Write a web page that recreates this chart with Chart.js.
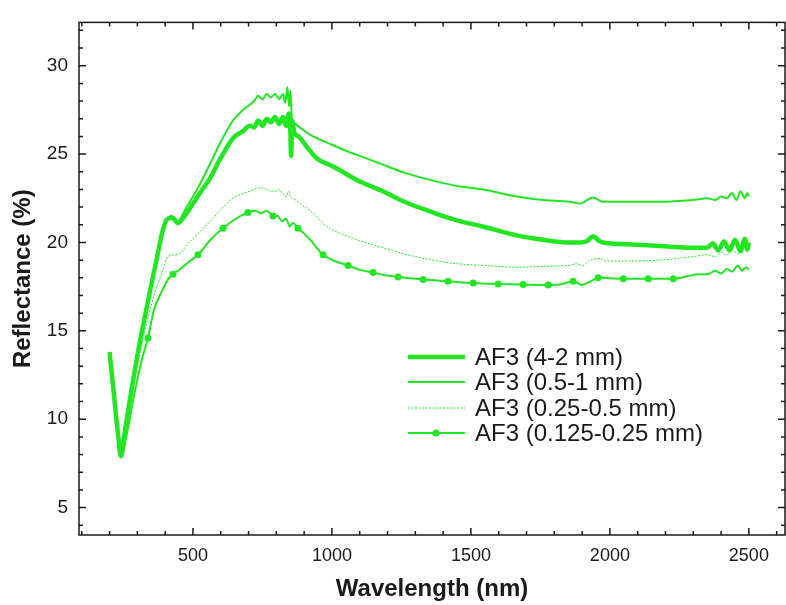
<!DOCTYPE html>
<html>
<head>
<meta charset="utf-8">
<script src="https://cdn.jsdelivr.net/npm/chart.js@4.4.1/dist/chart.umd.min.js"></script>
<style>
  body { margin: 0; background: #fff; }
  #wrap { width: 786px; height: 605px; }
</style>
</head>
<body>
<div id="wrap"><canvas id="myCanvas" width="786" height="605"></canvas></div>
<script>
// wavelengths (nm) and reflectance (%)
var nomA = "AF3 (4-2 mm)";
var wlA = [200, 215, 230, 241, 255, 275, 300, 327, 350, 374, 390, 406, 425, 446, 470, 500, 525, 560, 597, 644, 680, 705,
    720, 735, 750, 766, 780, 795, 810, 824, 835, 845, 850, 853, 857, 865, 880, 910, 946, 1004, 1065, 1100, 1183, 1260,
    1363, 1450, 1543, 1665, 1760, 1856, 1892, 1920, 1939, 1960, 1975, 2061, 2180, 2298, 2350, 2370, 2390, 2410, 2430,
    2450, 2470, 2485, 2495, 2500];
var refA = [13.8, 11.5, 9.2, 7.9, 9.3, 11.3, 13.6, 15.8, 17.6, 19.4, 20.6, 21.3, 21.4, 21.1, 21.5, 22.2, 22.8, 23.6, 24.7, 25.9, 26.3, 26.6,
    26.5, 26.9, 26.6, 27.0, 26.8, 27.1, 26.7, 27.1, 26.6, 27.3, 26.5, 24.9, 26.9, 26.2, 26.0, 25.4, 24.75, 24.3, 23.75, 23.45, 22.9, 22.3,
    21.7, 21.25, 20.9, 20.4, 20.15, 20.0, 20.0, 20.1, 20.35, 20.1, 20.0, 19.9, 19.8, 19.7, 19.7, 19.95, 19.55, 20.05, 19.55,
    20.15, 19.5, 20.2, 19.6, 20.0];

var nomB = "AF3 (0.5-1 mm)";
var wlB = [200, 215, 230, 243, 255, 275, 300, 327, 350, 374, 390, 406, 425, 446, 470, 500, 525, 560, 597, 644, 680, 705,
    720, 735, 750, 766, 780, 795, 810, 824, 832, 840, 846, 851, 856, 867, 885, 921, 1004, 1065, 1100, 1183, 1260, 1363,
    1450, 1543, 1665, 1760, 1856, 1892, 1939, 1975, 2061, 2180, 2298, 2350, 2380, 2400, 2420, 2440, 2455, 2470, 2485,
    2495, 2500];
var refB = [13.8, 11.6, 9.3, 8.2, 9.4, 11.4, 13.7, 15.9, 17.8, 19.5, 20.6, 21.3, 21.5, 21.2, 21.8, 22.6, 23.3, 24.4, 25.6, 26.9, 27.5, 27.8,
    28.0, 28.3, 28.1, 28.4, 28.2, 28.4, 28.1, 28.4, 27.9, 28.8, 27.7, 28.6, 26.9, 26.7, 26.5, 26.1, 25.5, 25.1, 24.9, 24.4, 23.95, 23.5,
    23.2, 23.0, 22.6, 22.4, 22.3, 22.2, 22.55, 22.3, 22.3, 22.3, 22.4, 22.5, 22.4, 22.6, 22.5, 22.8, 22.4, 22.9, 22.5,
    22.8, 22.6];

var nomC = "AF3 (0.25-0.5 mm)";
var wlC = [200, 215, 230, 245, 260, 280, 300, 327, 360, 389, 410, 435, 455, 480, 525, 568, 597, 644, 705, 740, 766, 780,
    800, 810, 824, 835, 845, 850, 870, 885, 921, 982, 1065, 1100, 1183, 1260, 1363, 1450, 1543, 1665, 1760, 1856, 1880,
    1900, 1930, 1964, 1985, 2061, 2180, 2298, 2350, 2380, 2400, 2420, 2440, 2460, 2480];
var refC = [13.8, 11.7, 9.5, 8.3, 9.5, 11.3, 13.0, 15.0, 17.0, 18.3, 19.2, 19.3, 19.4, 19.9, 20.6, 21.3, 21.8, 22.5, 22.9, 23.1, 23.0, 22.9,
    22.9, 23.0, 22.7, 22.6, 22.9, 22.6, 22.4, 22.2, 21.8, 20.9, 20.3, 20.1, 19.7, 19.35, 19.0, 18.8, 18.7, 18.6, 18.65, 18.7, 18.8,
    18.7, 19.0, 19.1, 18.95, 18.95, 19.0, 19.2, 19.3, 19.2, 19.45, 19.3, 19.6, 19.35, 19.7];

var nomD = "AF3 (0.125-0.25 mm)";
var wlD = [200, 215, 230, 243, 260, 290, 315, 338, 360, 390, 410, 428, 455, 485, 518, 560, 608, 650, 698, 720, 745, 765,
    788, 805, 820, 835, 848, 860, 878, 900, 925, 945, 968, 1010, 1058, 1100, 1148, 1190, 1238, 1280, 1328, 1418, 1508,
    1598, 1688, 1778, 1820, 1868, 1899, 1930, 1958, 2048, 2138, 2228, 2280, 2320, 2350, 2380, 2400, 2420, 2440, 2460,
    2475, 2490, 2500];
var refD = [13.8, 11.5, 9.2, 8.0, 9.0, 11.5, 13.3, 14.6, 16.2, 17.3, 17.9, 18.2, 18.5, 18.9, 19.3, 20.1, 20.8, 21.3, 21.7, 21.8, 21.65, 21.8,
    21.5, 21.5, 21.2, 21.35, 20.9, 21.1, 20.8, 20.5, 20.1, 19.7, 19.3, 18.95, 18.7, 18.45, 18.3, 18.15, 18.05, 17.97, 17.9, 17.8, 17.7,
    17.65, 17.62, 17.6, 17.62, 17.8, 17.6, 17.8, 18.0, 17.95, 17.95, 17.95, 18.1, 18.2, 18.2, 18.4, 18.25, 18.5, 18.35, 18.7,
    18.4, 18.6, 18.45];
// wavelengths where the small-fraction curve carries a dot
var markedD = [338, 428, 518, 608, 698, 788, 878, 968, 1058, 1148, 1238, 1328, 1418, 1508, 1598, 1688, 1778, 1868, 1958,
    2048, 2138, 2228];

var xTicks = [500, 1000, 1500, 2000, 2500];
var yTicks = [5, 10, 15, 20, 25, 30];

var vert = "#22e622";
var noir = "#1a1a1a";
var police = "'Liberation Sans', Arial, sans-serif";

function punts(wl, ref) {
    var p = [];
    for (var i = 0; i < wl.length; i++) {
        p.push({ x: wl[i], y: ref[i] });
    }
    return p;
}

function fixaTicks(llista) {
    return function (s) {
        s.ticks = llista.map(function (v) { return { value: v }; });
    };
}

// box with inward ticks + legend inside the plot
var marc = {
    id: "marc",
    afterDraw: function (chart) {
        var ctx = chart.ctx;
        var a = chart.chartArea;
        var x = chart.scales.x;
        var y = chart.scales.y;
        ctx.save();
        ctx.strokeStyle = noir;
        ctx.lineWidth = 1.5;
        ctx.strokeRect(a.left, a.top, a.right - a.left, a.bottom - a.top);
        ctx.beginPath();
        for (var v = 100; v <= 2600; v += 100) {
            var px = x.getPixelForValue(v);
            var len = (v % 500 === 0) ? 7 : 4;
            ctx.moveTo(px, a.bottom); ctx.lineTo(px, a.bottom - len);
            ctx.moveTo(px, a.top); ctx.lineTo(px, a.top + len);
        }
        for (var w = 4; w <= 32; w++) {
            var py = y.getPixelForValue(w);
            var l2 = (w % 5 === 0) ? 7 : 4;
            ctx.moveTo(a.left, py); ctx.lineTo(a.left + l2, py);
            ctx.moveTo(a.right, py); ctx.lineTo(a.right - l2, py);
        }
        ctx.stroke();

        // legend
        var files = [357, 382, 408, 433];
        ctx.font = "24px " + police;
        ctx.textBaseline = "middle";
        ctx.textAlign = "left";
        chart.data.datasets.forEach(function (ds, i) {
            var yy = files[i];
            ctx.strokeStyle = ds.borderColor;
            ctx.lineWidth = ds.borderWidth;
            ctx.setLineDash(ds.borderDash || []);
            ctx.beginPath();
            ctx.moveTo(408, yy); ctx.lineTo(465, yy);
            ctx.stroke();
            ctx.setLineDash([]);
            if (ds.marca) {
                ctx.fillStyle = ds.borderColor;
                ctx.beginPath();
                ctx.arc(436, yy, 3.5, 0, Math.PI * 2);
                ctx.fill();
            }
            ctx.fillStyle = noir;
            ctx.fillText(ds.label, 475, yy + 1);
        });
        ctx.restore();
    }
};

var ctx = document.getElementById("myCanvas");
var grafica = new Chart(ctx, {
    type: "line",
    data: {
        datasets: [{
            label: nomA,
            data: punts(wlA, refA),
            borderColor: vert,
            borderWidth: 4.5,
            pointRadius: 0
        }, {
            label: nomB,
            data: punts(wlB, refB),
            borderColor: vert,
            borderWidth: 2,
            pointRadius: 0
        }, {
            label: nomC,
            data: punts(wlC, refC),
            borderColor: vert,
            borderWidth: 1,
            borderDash: [2, 1.5],
            pointRadius: 0
        }, {
            label: nomD,
            data: punts(wlD, refD),
            borderColor: vert,
            backgroundColor: vert,
            borderWidth: 2,
            marca: true,
            pointRadius: function (c) {
                return markedD.indexOf(c.raw.x) >= 0 ? 3.5 : 0;
            },
            pointBorderWidth: 0
        }]
    },
    options: {
        responsive: false,
        animation: false,
        cubicInterpolationMode: "monotone",
        layout: { padding: { top: 13, right: 1, left: 0, bottom: 0 } },
        plugins: { legend: { display: false }, tooltip: { enabled: false } },
        scales: {
            x: {
                type: "linear",
                min: 90,
                max: 2630,
                grid: { display: false, drawTicks: false },
                border: { display: false },
                afterFit: function (s) { s.height = 70; },
                afterBuildTicks: fixaTicks(xTicks),
                ticks: {
                    padding: 10,
                    color: noir,
                    font: { family: police, size: 18 },
                    callback: function (v) { return String(v); }
                },
                title: {
                    display: true,
                    text: "Wavelength (nm)",
                    color: noir,
                    font: { family: police, size: 24, weight: "bold" },
                    padding: { top: 0, bottom: 1 }
                }
            },
            y: {
                min: 3.45,
                max: 32.45,
                grid: { display: false, drawTicks: false },
                border: { display: false },
                afterFit: function (s) { s.width = 79; },
                afterBuildTicks: fixaTicks(yTicks),
                ticks: {
                    padding: 11,
                    color: noir,
                    font: { family: police, size: 19 },
                    callback: function (v) { return String(v); }
                },
                title: {
                    display: true,
                    text: "Reflectance (%)",
                    color: noir,
                    font: { family: police, size: 24, weight: "bold" },
                    padding: { top: 9, bottom: 0 }
                }
            }
        }
    },
    plugins: [marc]
});
</script>
</body>
</html>
